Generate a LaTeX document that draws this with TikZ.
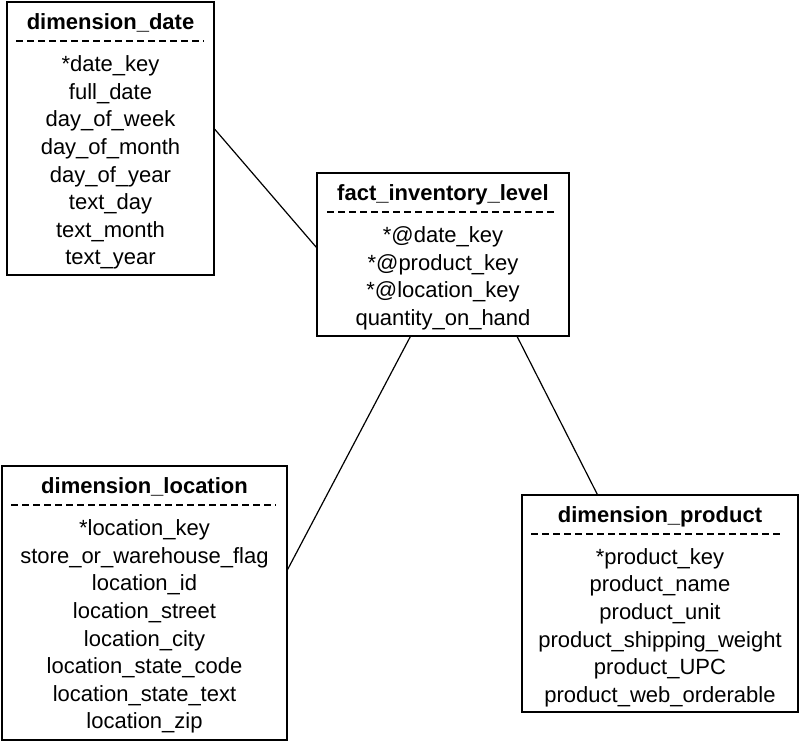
\documentclass[tikz,border=0pt]{standalone}
\usepackage{fontspec}
\setmainfont{Liberation Sans}
\usetikzlibrary{positioning,calc}
\tikzset{
    tblbox/.style   = {rectangle, draw, line width=0.75pt, inner sep=0pt},
    tbltitle/.style = {font=\fontsize{11}{13.8}\selectfont\bfseries,
                       text height=8pt, text depth=2.5pt, inner sep=0pt},
    tblfield/.style = {font=\fontsize{11}{13.8}\selectfont,
                       text height=8pt, text depth=2.5pt, inner sep=0pt},
    tblsep/.style   = {draw, dash pattern=on 3.2pt off 2.3pt, line width=0.75pt},
    tbllink/.style  = {draw, line width=0.6pt}
}

\begin{document}
\begin{tikzpicture}[x=0.5pt, y=-0.5pt]
  \useasboundingbox (0,0) rectangle (800,742);

  % date dimension
  \node [tblbox, minimum width=103.5pt, minimum height=136.5pt] (dd) at (110.5,138.5) {};
  \node [tbltitle] (dd-title) at ($(dd.north)+(0,23)$) {dimension\_date};
  \path [tblsep] ($(dd.north west)+(10,40)$) -- ($(dd.north east)+(-11,40)$);
  \foreach \f [count=\i from 0] in {*date\_key, full\_date, day\_of\_week,
      day\_of\_month, day\_of\_year, text\_day, text\_month, text\_year}
    \node [tblfield] (dd-\i) at ($(dd.north)+(0,65+27.6*\i)$) {\f};

  % fact table
  \node [tblbox, minimum width=126pt, minimum height=81.5pt] (fil) at (443,254.5) {};
  \node [tbltitle] (fil-title) at ($(fil.north)+(0,23)$) {fact\_inventory\_level};
  \path [tblsep] ($(fil.north west)+(11,40)$) -- ($(fil.north east)+(-12,40)$);
  \foreach \f [count=\i from 0] in {*@date\_key, *@product\_key,
      *@location\_key, quantity\_on\_hand}
    \node [tblfield] (fil-\i) at ($(fil.north)+(0,65+27.6*\i)$) {\f};

  % location dimension
  \node [tblbox, minimum width=142.5pt, minimum height=137pt] (dl) at (144.5,603) {};
  \node [tbltitle] (dl-title) at ($(dl.north)+(0,23)$) {dimension\_location};
  \path [tblsep] ($(dl.north west)+(10,40)$) -- ($(dl.north east)+(-12,40)$);
  \foreach \f [count=\i from 0] in {*location\_key, store\_or\_warehouse\_flag,
      location\_id, location\_street, location\_city, location\_state\_code,
      location\_state\_text, location\_zip}
    \node [tblfield] (dl-\i) at ($(dl.north)+(0,65+27.6*\i)$) {\f};

  % product dimension
  \node [tblbox, minimum width=138pt, minimum height=108.5pt] (dp) at (660,603.5) {};
  \node [tbltitle] (dp-title) at ($(dp.north)+(0,23)$) {dimension\_product};
  \path [tblsep] ($(dp.north west)+(10,40)$) -- ($(dp.north east)+(-15,40)$);
  \foreach \f [count=\i from 0] in {*product\_key, product\_name, product\_unit,
      product\_shipping\_weight, product\_UPC, product\_web\_orderable}
    \node [tblfield] (dp-\i) at ($(dp.north)+(0,64.5+27.6*\i)$) {\f};

  % links
  \path [tbllink] ($(dd.north east)+(0,128)$) -- ($(fil.north west)+(0,75)$);
  \path [tbllink] ($(fil.south west)+(94,0)$) -- ($(dl.north east)+(0,104)$);
  \path [tbllink] ($(fil.south west)+(201,0)$) -- ($(dp.north west)+(76,0)$);
\end{tikzpicture}
\end{document}
